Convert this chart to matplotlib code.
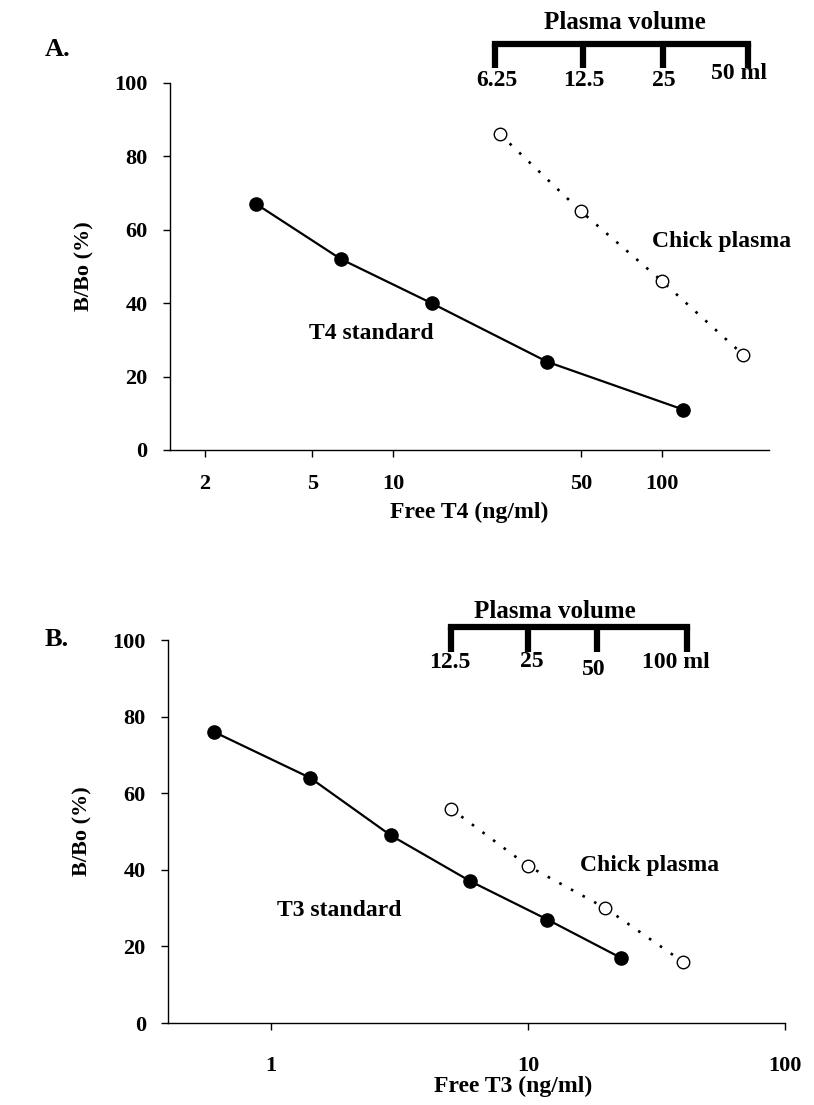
import matplotlib
matplotlib.use('Agg')
import matplotlib.pyplot as plt
from matplotlib.ticker import FixedLocator, NullLocator, FixedFormatter

plt.rcParams['font.family'] = ['Liberation Serif', 'DejaVu Serif']
plt.rcParams['font.weight'] = 'bold'

# panel A: free T4
a_std_x = [3.1, 6.4, 13.9, 37.5, 120]
a_std_y = [67, 52, 40, 24, 11]
a_plasma_x = [25, 50, 100, 200]
a_plasma_y = [86, 65, 46, 26]
a_vol_x = [24, 51, 101, 209]
a_vol_labels = ['6.25', '12.5', '25', '50 ml']
a_xticks = [2, 5, 10, 50, 100]

# panel B: free T3
b_std_x = [0.6, 1.42, 2.92, 5.97, 11.9, 23.0]
b_std_y = [76, 64, 49, 37, 27, 17]
b_plasma_x = [5, 10, 20, 40]
b_plasma_y = [56, 41, 30, 16]
b_vol_x = [5, 10, 18.6, 41.5]
b_vol_labels = ['12.5', '25', '50', '100 ml']
b_xticks = [1, 10, 100]

yticks = [0, 20, 40, 60, 80, 100]


def draw_panel(ax, std_x, std_y, pl_x, pl_y, xticks, xpad):
    ax.plot(std_x, std_y, '-', color='black', lw=1.6, marker='o',
            ms=9.5, mfc='black', mec='black', clip_on=False, zorder=3)
    ax.plot(pl_x, pl_y, linestyle=(0, (1, 4)), color='black', lw=1.9,
            marker='o', ms=9, mfc='white', mec='black', mew=1.0,
            clip_on=False, zorder=3)
    ax.set_xscale('log')
    ax.set_ylim(0, 100)
    ax.set_yticks(yticks)
    ax.xaxis.set_major_locator(FixedLocator(xticks))
    ax.xaxis.set_major_formatter(FixedFormatter([str(t) for t in xticks]))
    ax.xaxis.set_minor_locator(NullLocator())
    for s in ['top', 'right']:
        ax.spines[s].set_visible(False)
    for s in ['left', 'bottom']:
        ax.spines[s].set_linewidth(1.0)
    ax.tick_params(axis='y', direction='out', length=5, width=1,
                   labelsize=16, pad=11)
    ax.tick_params(axis='x', direction='out', length=5, width=1,
                   labelsize=16, pad=xpad)
    for lab in ax.get_xticklabels() + ax.get_yticklabels():
        lab.set_fontweight('bold')


def draw_bracket(ax, xs, y_bar, y_tick):
    ax.plot([xs[0], xs[-1]], [y_bar, y_bar], color='black', lw=4.5,
            solid_capstyle='projecting', clip_on=False)
    for x in xs:
        ax.plot([x, x], [y_bar, y_tick], color='black', lw=4.5,
                solid_capstyle='butt', clip_on=False)


fig = plt.figure(figsize=(8.14, 11.05), dpi=100)

# ---- panel A
axA = fig.add_axes([0.2088, 0.5928, 0.7359, 0.3321])
draw_panel(axA, a_std_x, a_std_y, a_plasma_x, a_plasma_y, a_xticks, 12)
axA.set_xlim(1.48, 250)
draw_bracket(axA, a_vol_x, 110.6, 104.1)
axA.text(72.8, 116.6, 'Plasma volume', fontsize=18, ha='center',
         va='center', clip_on=False)
for x, lab, y in zip([24.4, 51.3, 102], a_vol_labels[:3], [100.8] * 3):
    axA.text(x, y, lab, fontsize=17, ha='center', va='center')
axA.text(152, 102.5, a_vol_labels[3], fontsize=17, ha='left', va='center')
axA.text(4.85, 31.6, 'T4 standard', fontsize=17, ha='left', va='center')
axA.text(92, 56.9, 'Chick plasma', fontsize=17, ha='left', va='center')
axA.set_xlabel('Free T4 (ng/ml)', fontsize=17, fontweight='bold', labelpad=6)
axA.set_ylabel('B/Bo (%)', fontsize=16, fontweight='bold', labelpad=14)
fig.text(0.055, 1 - 50 / 1105, 'A.', fontsize=19, fontweight='bold',
         va='center', ha='left')

# ---- panel B
axB = fig.add_axes([0.2064, 0.0742, 0.758, 0.3466])
draw_panel(axB, b_std_x, b_std_y, b_plasma_x, b_plasma_y, b_xticks, 19)
axB.set_xlim(0.397, 100)
draw_bracket(axB, b_vol_x, 103.3, 96.9)
axB.text(12.7, 107.4, 'Plasma volume', fontsize=18, ha='center',
         va='center', clip_on=False)
for x, lab, y in zip([4.97, 10.3, 18.0], b_vol_labels[:3], [94.0, 94.3, 92.2]):
    axB.text(x, y, lab, fontsize=17, ha='center', va='center')
axB.text(27.7, 94.0, b_vol_labels[3], fontsize=17, ha='left', va='center')
axB.text(1.05, 29.5, 'T3 standard', fontsize=17, ha='left', va='center')
axB.text(15.9, 41.2, 'Chick plasma', fontsize=17, ha='left', va='center')
axB.set_xlabel('Free T3 (ng/ml)', fontsize=17, fontweight='bold')
axB.xaxis.set_label_coords(0.559, -0.138)
axB.set_ylabel('B/Bo (%)', fontsize=16, fontweight='bold', labelpad=14)
fig.text(0.055, 1 - 640 / 1105, 'B.', fontsize=19, fontweight='bold',
         va='center', ha='left')

fig.savefig('out.png', dpi=100)
